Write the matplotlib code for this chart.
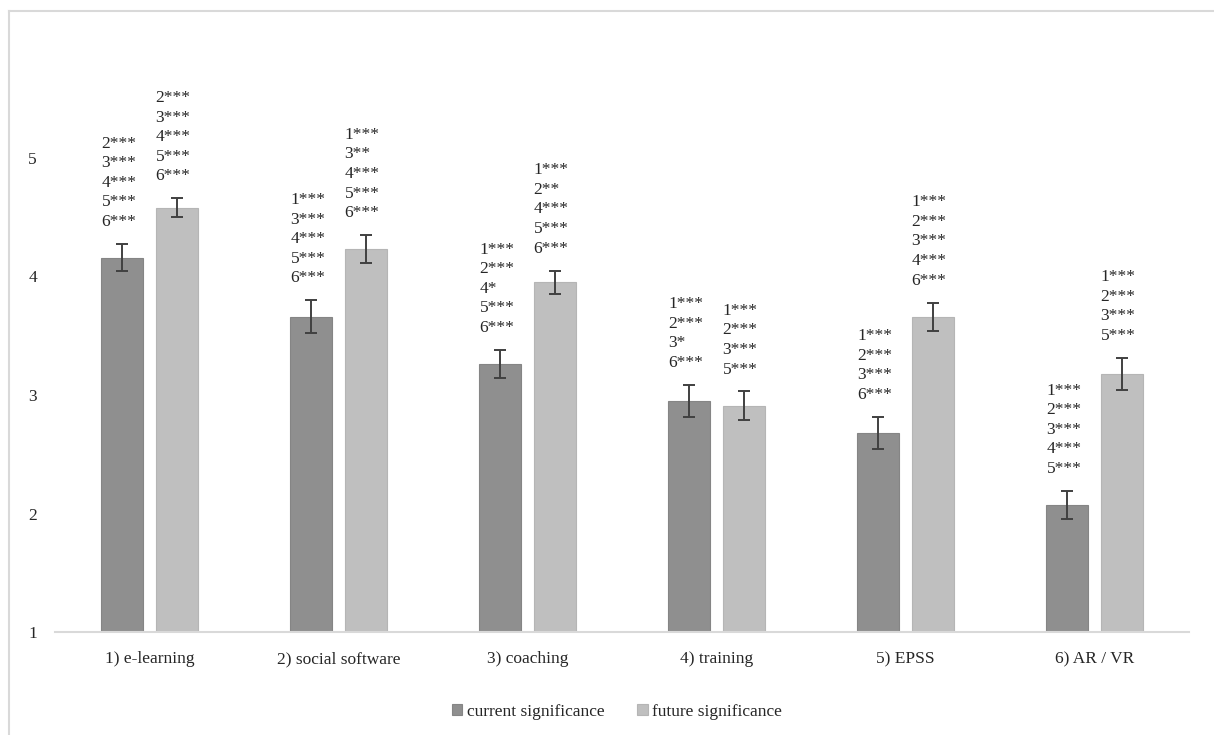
import matplotlib
matplotlib.use("Agg")
import matplotlib.pyplot as plt
import numpy as np
from matplotlib.lines import Line2D

categories = ["1) e-learning", "2) social software", "3) coaching",
              "4) training", "5) EPSS", "6) AR / VR"]
current = [4.16, 3.66, 3.26, 2.95, 2.68, 2.07]
current_err = [0.115, 0.14, 0.12, 0.135, 0.135, 0.12]
future = [4.58, 4.23, 3.95, 2.91, 3.66, 3.18]
future_err = [0.08, 0.12, 0.10, 0.12, 0.12, 0.135]
current_sig = [
    "2***\n3***\n4***\n5***\n6***",
    "1***\n3***\n4***\n5***\n6***",
    "1***\n2***\n4*\n5***\n6***",
    "1***\n2***\n3*\n6***",
    "1***\n2***\n3***\n6***",
    "1***\n2***\n3***\n4***\n5***",
]
future_sig = [
    "2***\n3***\n4***\n5***\n6***",
    "1***\n3**\n4***\n5***\n6***",
    "1***\n2**\n4***\n5***\n6***",
    "1***\n2***\n3***\n5***",
    "1***\n2***\n3***\n4***\n6***",
    "1***\n2***\n3***\n5***",
]
yticks = [1, 2, 3, 4, 5]

plt.rcParams['font.family'] = ['Liberation Serif', 'DejaVu Serif']
FS = 12.5
TXT = '#262626'

fig = plt.figure(figsize=(12.14, 7.35), dpi=100)
ax = fig.add_axes([55/1214, 1-632/735, (1189-55)/1214, (632-39.5)/735])

x = np.arange(len(categories))
w = 0.222
off = 0.143
c_cur = '#8f8f8f'
c_fut = '#bfbfbf'
b1 = ax.bar(x - off, np.array(current) - 1, w, bottom=1, color=c_cur,
            edgecolor='#858585', linewidth=0.8, label='current significance',
            yerr=current_err, capsize=4.5,
            error_kw=dict(ecolor='#404040', elinewidth=1.4, capthick=1.4))
b2 = ax.bar(x + off, np.array(future) - 1, w, bottom=1, color=c_fut,
            edgecolor='#b5b5b5', linewidth=0.8, label='future significance',
            yerr=future_err, capsize=4.5,
            error_kw=dict(ecolor='#404040', elinewidth=1.4, capthick=1.4))

for i in range(len(categories)):
    ax.annotate(current_sig[i], xy=(x[i] - off - w/2, current[i] + current_err[i]),
                xytext=(0, 10), textcoords='offset points', ha='left', va='bottom',
                fontsize=FS, color=TXT, linespacing=1.3, annotation_clip=False)
    ax.annotate(future_sig[i], xy=(x[i] + off - w/2, future[i] + future_err[i]),
                xytext=(0, 10), textcoords='offset points', ha='left', va='bottom',
                fontsize=FS, color=TXT, linespacing=1.3, annotation_clip=False)

ax.set_xlim(-0.5, len(categories) - 0.5)
ax.set_ylim(1, 6)
ax.set_yticks(yticks)
ax.set_yticklabels([str(t) for t in yticks], fontsize=FS, color=TXT)
ax.set_xticks(x)
ax.set_xticklabels(categories, fontsize=FS, color=TXT)
ax.tick_params(axis='both', length=0)
ax.tick_params(axis='x', pad=14)
ax.tick_params(axis='y', pad=13)
for s in ['top', 'right', 'left']:
    ax.spines[s].set_visible(False)
ax.spines['bottom'].set_color('#d9d9d9')
ax.spines['bottom'].set_linewidth(1.5)

leg = fig.legend(handles=[b1, b2], labels=['current significance', 'future significance'],
                 loc='center', bbox_to_anchor=(617/1214, 1-712/735), ncol=2,
                 frameon=False, fontsize=FS, handlelength=0.6, handleheight=0.6,
                 handletextpad=0.25, columnspacing=1.9, labelcolor=TXT)

# outer frame (left and top lines)
fig.add_artist(Line2D([8.5/1214, 8.5/1214], [0, 1-11/735], transform=fig.transFigure,
                      color='#d9d9d9', linewidth=1.5))
fig.add_artist(Line2D([8.5/1214, 1], [1-11/735, 1-11/735], transform=fig.transFigure,
                      color='#d9d9d9', linewidth=1.5))

fig.savefig('out.png', dpi=100)
